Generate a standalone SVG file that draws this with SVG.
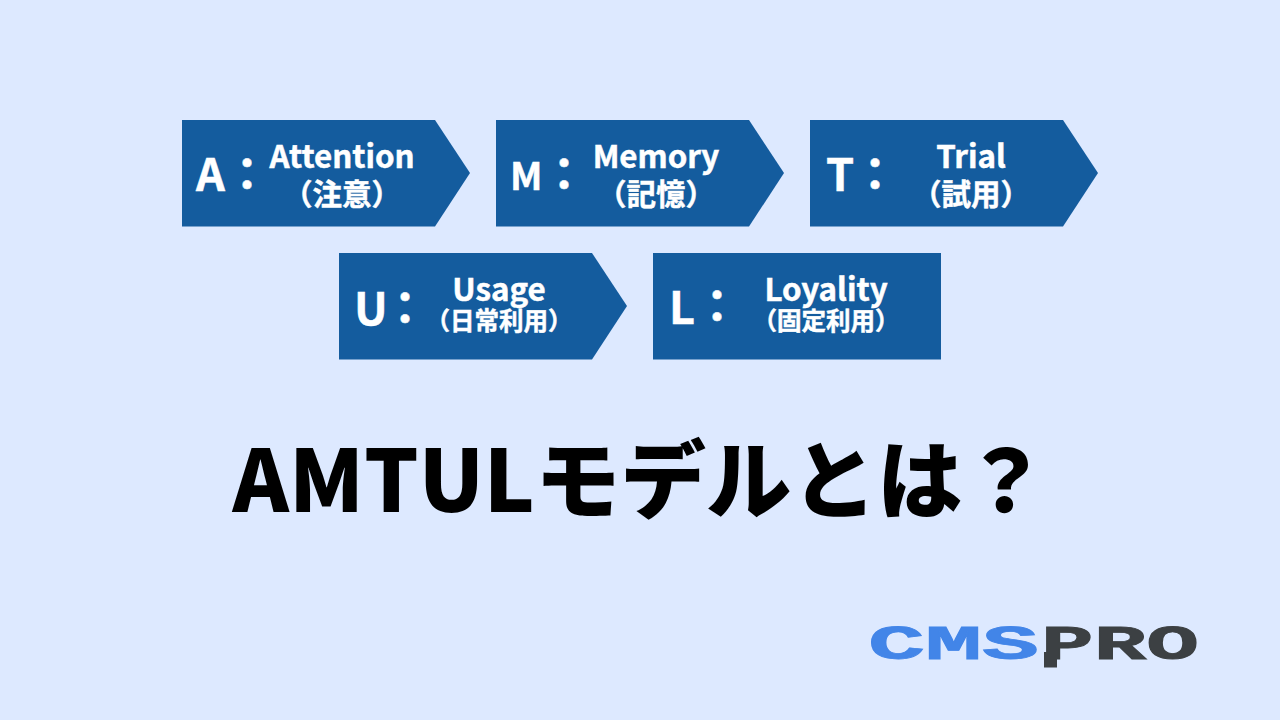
<svg xmlns="http://www.w3.org/2000/svg" width="1280" height="720" viewBox="0 0 1280 720">
<style>
text{font-family:"Noto Sans CJK JP","Noto Sans",sans-serif;font-weight:700}
.box{fill:#145c9e}
.big,.col,.l1,.l2,.l3{fill:#fff;stroke:#fff;stroke-width:.5px}
.big{font-size:45px}
.col{font-size:45px;text-anchor:middle}
.l1{font-size:31.300px;text-anchor:middle}
.l2{font-size:29.500px;text-anchor:middle}
.l3{font-size:24.500px;text-anchor:middle}
.logo{font-family:"Liberation Mono",monospace;font-size:49px;stroke-width:.8px}
</style>
<rect width="1280" height="720" fill="#dde9ff"/>
<g id="node-a"><polygon class="box" points="182,120 435,120 470,173 435,226.500 182,226.500"/>
<text class="big" x="196" y="191">A</text><text class="col" x="247" y="191">：</text>
<text class="l1" x="342" y="167.500">Attention</text><text class="l2" x="342" y="205">（注意）</text></g>
<g id="node-m"><polygon class="box" points="496,120 749,120 784,173 749,226.500 496,226.500"/>
<text class="big" x="510" y="190" style="font-size:38px">M</text><text class="col" x="564" y="191">：</text>
<text class="l1" x="656" y="167.500">Memory</text><text class="l2" x="656" y="205">（記憶）</text></g>
<g id="node-t"><polygon class="box" points="810,120 1063,120 1098,173 1063,226.500 810,226.500"/>
<text class="big" x="826" y="191">T</text><text class="col" x="875" y="191">：</text>
<text class="l1" x="971" y="167.500">Trial</text><text class="l2" x="971" y="205">（試用）</text></g>
<g id="node-u"><polygon class="box" points="339,253 592,253 627,306 592,359.500 339,359.500"/>
<text class="big" x="354" y="325">U</text><text class="col" x="405" y="325">：</text>
<text class="l1" x="499" y="300.500">Usage</text><text class="l3" x="499" y="329.500">（日常利用）</text></g>
<g id="node-l"><rect class="box" x="653" y="253" width="288" height="106.500"/>
<text class="big" x="669" y="324">L</text><text class="col" x="717" y="323">：</text>
<text class="l1" x="826" y="300.500">Loyality</text><text class="l3" x="826" y="329.500">（固定利用）</text></g>
<text id="title" x="232.500" y="512" font-size="85.500" fill="#000" style="font-weight:900">AMTULモデルとは？</text>
<g id="logo"><text class="logo" x="868" y="659" fill="#4285e8" stroke="#4285e8" textLength="171" lengthAdjust="spacingAndGlyphs">CMS</text>
<text class="logo" x="1041" y="659" fill="#3c4043" stroke="#3c4043" textLength="158" lengthAdjust="spacingAndGlyphs">PRO</text>
<rect x="1044" y="652" width="13" height="15.500" fill="#3c4043"/></g>
</svg>
